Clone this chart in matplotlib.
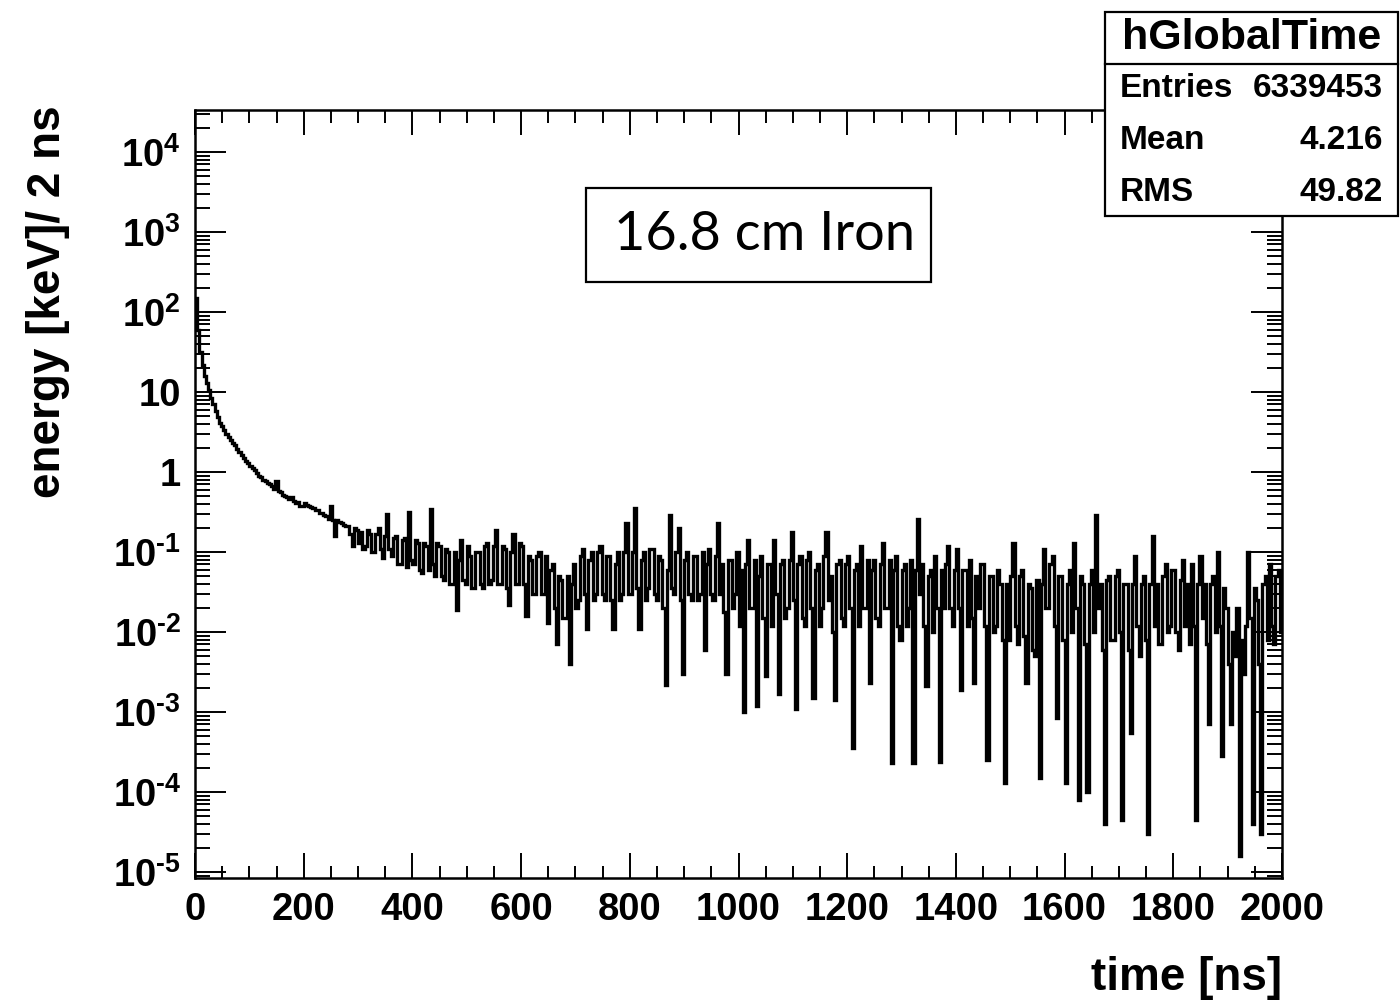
import numpy as np
import matplotlib
matplotlib.use('Agg')
import matplotlib.pyplot as plt
from matplotlib.patches import Rectangle
from matplotlib.lines import Line2D
from matplotlib.ticker import FixedLocator, LogLocator, MultipleLocator, NullFormatter

plt.rcParams['font.family'] = ['Liberation Sans', 'DejaVu Sans']
plt.rcParams['font.weight'] = 'bold'
plt.rcParams['mathtext.fontset'] = 'custom'
plt.rcParams['mathtext.rm'] = 'Liberation Sans:bold'
plt.rcParams['mathtext.it'] = 'Liberation Sans:bold'
plt.rcParams['mathtext.bf'] = 'Liberation Sans:bold'
plt.rcParams['mathtext.default'] = 'rm'

# fast part of the time spectrum, 4 ns bins (0-200 ns)
early_edges = np.arange(0, 201, 4)
early_energy = [150, 60, 32, 22, 16, 13, 10.5, 8.5, 7.0, 5.8,
                4.8, 4.1, 3.7, 3.3, 3.0, 2.75, 2.5, 2.3, 2.15, 1.95,
                1.8, 1.62, 1.5, 1.38, 1.3, 1.2, 1.12, 1.05, 0.98, 0.9,
                0.86, 0.80, 0.77, 0.72, 0.70, 0.66, 0.62, 0.78, 0.58, 0.56,
                0.52, 0.50, 0.48, 0.46, 0.49, 0.43, 0.41, 0.42, 0.38, 0.37]

# slow tail, 4 ns bins (200-2000 ns), one row = 80 ns
late_edges = np.arange(200, 2001, 4)
late_energy = [
    0.41, 0.39, 0.38, 0.36, 0.35, 0.33, 0.33, 0.31, 0.31, 0.29, 0.28, 0.26, 0.37, 0.25, 0.16, 0.25, 0.24, 0.23, 0.22, 0.21,
    0.21, 0.17, 0.12, 0.20, 0.19, 0.13, 0.18, 0.11, 0.12, 0.19, 0.17, 0.10, 0.10, 0.17, 0.20, 0.11, 0.085, 0.16, 0.30, 0.11,
    0.09, 0.15, 0.16, 0.07, 0.07, 0.14, 0.15, 0.065, 0.32, 0.08, 0.07, 0.14, 0.13, 0.06, 0.055, 0.13, 0.12, 0.06, 0.34, 0.07,
    0.05, 0.13, 0.12, 0.05, 0.045, 0.11, 0.10, 0.04, 0.04, 0.10, 0.019, 0.08, 0.14, 0.045, 0.04, 0.12, 0.09, 0.035, 0.035, 0.10,
    0.10, 0.04, 0.035, 0.12, 0.13, 0.04, 0.045, 0.12, 0.19, 0.04, 0.04, 0.12, 0.11, 0.035, 0.022, 0.10, 0.17, 0.04, 0.04, 0.13,
    0.12, 0.04, 0.016, 0.09, 0.08, 0.03, 0.03, 0.09, 0.10, 0.03, 0.03, 0.09, 0.013, 0.06, 0.07, 0.02, 0.007, 0.05, 0.045, 0.015,
    0.015, 0.05, 0.004, 0.04, 0.07, 0.02, 0.025, 0.09, 0.11, 0.03, 0.011, 0.08, 0.10, 0.025, 0.03, 0.10, 0.12, 0.03, 0.025, 0.09,
    0.09, 0.025, 0.011, 0.07, 0.10, 0.025, 0.03, 0.10, 0.23, 0.03, 0.03, 0.10, 0.35, 0.035, 0.011, 0.08, 0.10, 0.025, 0.035, 0.11,
    0.11, 0.03, 0.025, 0.09, 0.08, 0.02, 0.0022, 0.06, 0.29, 0.035, 0.03, 0.10, 0.2, 0.025, 0.003, 0.08, 0.10, 0.03, 0.025, 0.09,
    0.09, 0.025, 0.03, 0.10, 0.006, 0.07, 0.11, 0.03, 0.025, 0.09, 0.23, 0.03, 0.07, 0.018, 0.003, 0.08, 0.08, 0.02, 0.03, 0.10,
    0.012, 0.06, 0.001, 0.07, 0.14, 0.02, 0.02, 0.08, 0.0012, 0.05, 0.09, 0.015, 0.0028, 0.07, 0.07, 0.012, 0.14, 0.03, 0.0017, 0.07,
    0.08, 0.015, 0.02, 0.08, 0.18, 0.025, 0.0011, 0.07, 0.09, 0.015, 0.012, 0.08, 0.10, 0.02, 0.0015, 0.06, 0.07, 0.012, 0.02, 0.09,
    0.18, 0.025, 0.05, 0.01, 0.0014, 0.07, 0.08, 0.015, 0.012, 0.07, 0.09, 0.02, 0.00035, 0.06, 0.07, 0.012, 0.12, 0.02, 0.02, 0.08,
    0.0023, 0.06, 0.08, 0.015, 0.012, 0.07, 0.13, 0.02, 0.02, 0.08, 0.00023, 0.06, 0.09, 0.012, 0.008, 0.06, 0.07, 0.012, 0.02, 0.08,
    0.00023, 0.06, 0.26, 0.03, 0.07, 0.012, 0.0021, 0.05, 0.06, 0.01, 0.09, 0.02, 0.00024, 0.06, 0.02, 0.07, 0.12, 0.02, 0.012, 0.06,
    0.11, 0.02, 0.0019, 0.06, 0.06, 0.012, 0.08, 0.015, 0.0023, 0.05, 0.02, 0.07, 0.07, 0.012, 0.00025, 0.05, 0.05, 0.01, 0.012, 0.06,
    0.04, 0.008, 0.00013, 0.04, 0.008, 0.05, 0.13, 0.012, 0.007, 0.05, 0.06, 0.009, 0.0023, 0.04, 0.035, 0.006, 0.005, 0.045, 0.00015, 0.04,
    0.11, 0.02, 0.02, 0.07, 0.09, 0.012, 0.00083, 0.05, 0.05, 0.008, 0.00013, 0.04, 0.06, 0.01, 0.13, 0.02, 0.00008, 0.05, 0.04, 0.007,
    0.0001, 0.04, 0.06, 0.01, 0.29, 0.02, 0.04, 0.006, 0.00004, 0.045, 0.05, 0.008, 0.008, 0.05, 0.06, 0.01, 0.000045, 0.04, 0.04, 0.006,
    0.00054, 0.04, 0.09, 0.012, 0.005, 0.04, 0.05, 0.008, 0.00003, 0.04, 0.16, 0.012, 0.04, 0.007, 0.007, 0.05, 0.07, 0.01, 0.012, 0.06,
    0.06, 0.01, 0.006, 0.045, 0.08, 0.012, 0.04, 0.007, 0.07, 0.012, 0.000045, 0.04, 0.09, 0.015, 0.04, 0.007, 0.0007, 0.04, 0.05, 0.01,
    0.10, 0.012, 0.00028, 0.035, 0.02, 0.004, 0.0007, 0.01, 0.005, 0.02, 0.000016, 0.008, 0.003, 0.012, 0.10, 0.015, 0.00004, 0.035, 0.025, 0.004,
    0.00003, 0.04, 0.05, 0.008, 0.07, 0.012, 0.007, 0.05, 0.06, 0.01]

ytick_vals = [1e-5, 1e-4, 1e-3, 1e-2, 1e-1, 1, 10, 1e2, 1e3, 1e4]
ytick_labels = [r'$10^{\text{-}5}$', r'$10^{\text{-}4}$', r'$10^{\text{-}3}$',
                r'$10^{\text{-}2}$', r'$10^{\text{-}1}$',
                '1', '10', '$10^{2}$', '$10^{3}$', '$10^{4}$']
xtick_vals = np.arange(0, 2001, 200)

hist_name = 'hGlobalTime'
stats_rows = [('Entries', '6339453'), ('Mean', '4.216'), ('RMS', '49.82')]
note = '16.8 cm Iron'

edges = np.concatenate([early_edges, late_edges[1:]])
energy = np.array(early_energy + late_energy)

fig = plt.figure(figsize=(14, 10.02), dpi=100)
ax = fig.add_axes([0.1393, 0.1238, 0.7764, 0.7665])

ax.stairs(energy, edges, baseline=None, color='black', lw=2.4)

ax.set_yscale('log')
ax.set_xlim(0, 2000)
ax.set_ylim(10 ** -5.075, 10 ** 4.525)

ax.yaxis.set_major_locator(FixedLocator(ytick_vals))
ax.set_yticklabels(ytick_labels)
ax.yaxis.set_minor_locator(LogLocator(base=10, subs=np.arange(2, 10), numticks=30))
ax.yaxis.set_minor_formatter(NullFormatter())
ax.set_xticks(xtick_vals)
ax.set_xticklabels([str(v) for v in xtick_vals])
ax.xaxis.set_minor_locator(MultipleLocator(50))

ax.tick_params(axis='both', which='both', direction='in', top=True, right=True,
               width=1.4, labelsize=27.5, pad=10)
ax.tick_params(axis='y', which='major', length=22)
ax.tick_params(axis='y', which='minor', length=11)
ax.tick_params(axis='x', which='major', length=18)
ax.tick_params(axis='x', which='minor', length=9)
for sp in ax.spines.values():
    sp.set_linewidth(1.8)

fig.text(0.034, 0.895, 'energy [keV]/ 2 ns', rotation=90, ha='center', va='top',
         fontsize=33, fontweight='bold')
fig.text(0.9157, 0.024, 'time [ns]', ha='right', va='center', fontsize=33, fontweight='bold')

# label box in the middle
fig.add_artist(Rectangle((0.4186, 0.7186), 0.2464, 0.0938, transform=fig.transFigure,
                         fc='white', ec='black', lw=1.6, zorder=5))
fig.text(0.5464, 0.7655, note, ha='center', va='center', fontsize=39,
         family='Lato', fontweight='normal', zorder=6)

# stats box
fig.add_artist(Rectangle((0.789, 0.7844), 0.2096, 0.2036, transform=fig.transFigure,
                         fc='white', ec='black', lw=1.6, zorder=5))
fig.add_artist(Line2D([0.789, 0.9986], [0.936, 0.936], transform=fig.transFigure,
                      color='black', lw=1.6, zorder=6))
fig.text(0.8938, 0.962, hist_name, ha='center', va='center', fontsize=31, zorder=7)
row_y = [0.912, 0.860, 0.808]
for (name, val), yy in zip(stats_rows, row_y):
    fig.text(0.8, yy, name, ha='left', va='center', fontsize=24, zorder=7)
    fig.text(0.988, yy, val, ha='right', va='center', fontsize=24, zorder=7)

fig.savefig('out.png', dpi=100)
